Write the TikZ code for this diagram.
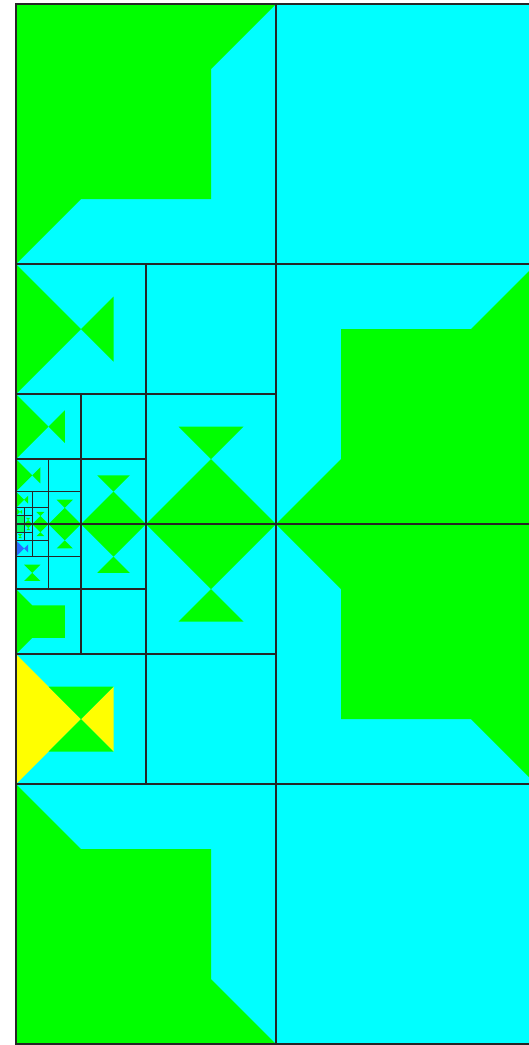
\documentclass[tikz,border=0pt]{standalone}
\definecolor{pgreen}{HTML}{00FF00}
\definecolor{pcyan}{HTML}{00FFFF}
\definecolor{pyellow}{HTML}{FFFF00}
\definecolor{pblue}{HTML}{2A6BFF}
\tikzset{
  grn/.style={fill=pgreen},
  yel/.style={fill=pyellow},
  blu/.style={fill=pblue},
  gridline/.style={draw=black!85, line width=1.1pt},
  pics/cornerTL/.style={code={\fill[grn] (0,0)--(1,0)--(.75,.25)--(.75,.75)--(.25,.75)--(0,1)--cycle;}},
  pics/cornerBR/.style={code={\fill[grn] (1,0)--(.75,.25)--(.25,.25)--(.25,.75)--(0,1)--(1,1)--cycle;}},
  pics/cornerTR/.style={code={\fill[grn] (0,0)--(1,0)--(1,1)--(.75,.75)--(.25,.75)--(.25,.25)--cycle;}},
  pics/cornerBL/.style={code={\fill[grn] (0,0)--(.25,.25)--(.75,.25)--(.75,.75)--(1,1)--(0,1)--cycle;}},
  pics/patE/.style={code={\fill[#1] (0,0)--(.5,.5)--(0,1)--cycle; \fill[#1] (.5,.5)--(.75,.25)--(.75,.75)--cycle;}},
  pics/patS/.style={code={\fill[grn] (.25,.25)--(.75,.25)--(.5,.5)--cycle; \fill[grn] (.5,.5)--(0,1)--(1,1)--cycle;}},
  pics/patN/.style={code={\fill[grn] (0,0)--(1,0)--(.5,.5)--cycle; \fill[grn] (.5,.5)--(.25,.75)--(.75,.75)--cycle;}},
  pics/patH/.style={code={\fill[grn] (.25,.25)--(.75,.25)--(.5,.5)--cycle; \fill[grn] (.5,.5)--(.25,.75)--(.75,.75)--cycle;}},
  pics/patQ/.style={code={\fill[grn] (0,0)--(.25,.25)--(.75,.25)--(.75,.75)--(.25,.75)--(0,1)--cycle;}},
  pics/patY/.style={code={
    \fill[yel] (0,0)--(.5,.5)--(0,1)--cycle;
    \fill[yel] (.75,.25)--(.5,.5)--(.75,.75)--cycle;
    \fill[grn] (.25,.25)--(.75,.25)--(.5,.5)--cycle;
    \fill[grn] (.25,.75)--(.75,.75)--(.5,.5)--cycle;}},
}
\begin{document}
\begin{tikzpicture}[x=1pt,y=-1pt]
\useasboundingbox (0,0) rectangle (529,1045);
\fill[white] (0,0) rectangle (529,1045);
\clip (0,0) rectangle (529,1045);
% background
\fill[pcyan] (16,4) rectangle (536,1044);
% level 260
\pic[scale=260] at (16,4) {cornerTL};
\pic[scale=260] at (276,264) {cornerBR};
\pic[scale=260] at (276,524) {cornerTR};
\pic[scale=260] at (16,784) {cornerBL};
% level 130
\pic[scale=130] at (16,264) {patE=grn};
\pic[scale=130] at (146,394) {patS};
\pic[scale=130] at (146,524) {patN};
\pic[scale=130] at (16,654) {patY};
% level 65
\pic[scale=65] at (16,394) {patE=grn};
\pic[scale=65] at (81,459) {patS};
\pic[scale=65] at (81,524) {patN};
\pic[scale=65] at (16,589) {patQ};
% level 32.5
\pic[scale=32.5] at (16,459) {patE=grn};
\pic[scale=32.5] at (48.5,491.5) {patS};
\pic[scale=32.5] at (48.5,524) {patN};
\pic[scale=32.5] at (16,556.5) {patH};
% level 16.25
\pic[scale=16.25] at (16,491.5) {patE=grn};
\pic[scale=16.25] at (32.25,507.75) {patS};
\pic[scale=16.25] at (32.25,524) {patN};
\pic[scale=16.25] at (16,540.25) {patE=blu};
% level 8.125
\pic[scale=8.125] at (16,507.75) {patE=grn};
\pic[scale=8.125] at (24.125,515.875) {patS};
\pic[scale=8.125] at (24.125,524) {patN};
\pic[scale=8.125] at (16,532.125) {patH};
\fill[pgreen!60!pcyan] (16,515.875) rectangle (24.125,532.125);
% grid lines
\draw[gridline] (16,4) rectangle (536,1044);
\draw[gridline] (276,4) -- (276,1044);
\draw[gridline] (16,264) -- (536,264);
\draw[gridline] (16,524) -- (536,524);
\draw[gridline] (16,784) -- (536,784);
\draw[gridline] (146,264) -- (146,784);
\draw[gridline] (16,394) -- (276,394);
\draw[gridline] (16,654) -- (276,654);
\draw[gridline] (81,394) -- (81,654);
\draw[gridline] (16,459) -- (146,459);
\draw[gridline] (16,589) -- (146,589);
\draw[gridline] (48.5,459) -- (48.5,589);
\draw[gridline] (16,491.5) -- (81,491.5);
\draw[gridline] (16,556.5) -- (81,556.5);
\draw[gridline] (32.25,491.5) -- (32.25,556.5);
\draw[gridline] (16,507.75) -- (48.5,507.75);
\draw[gridline] (16,540.25) -- (48.5,540.25);
\draw[gridline] (24.125,507.75) -- (24.125,540.25);
\draw[gridline] (16,515.875) -- (32.25,515.875);
\draw[gridline] (16,532.125) -- (32.25,532.125);
\end{tikzpicture}
\end{document}
